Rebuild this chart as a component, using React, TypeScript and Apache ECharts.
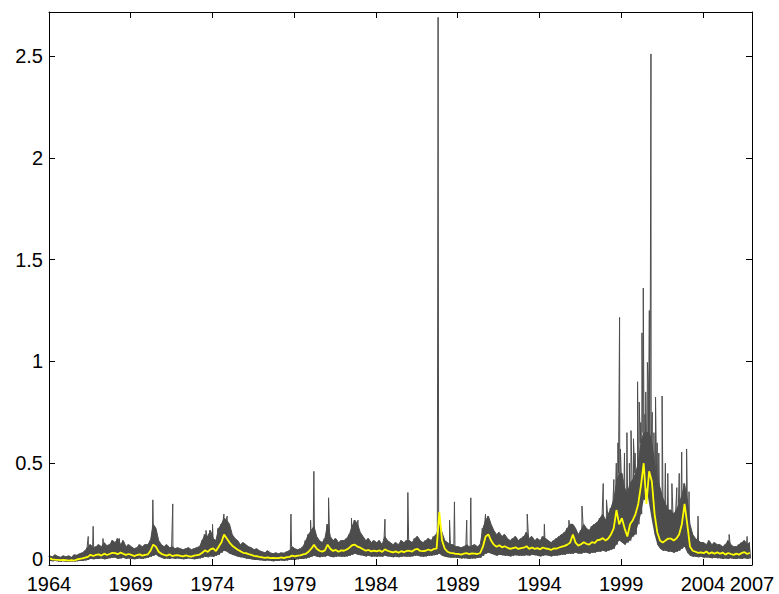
import React, { useEffect, useRef } from "react";
import * as echarts from "echarts";

const START_YEAR = 1964;
const STEP = 1 / 6; // two-month steps
const X_MAX = 43; // years after 1964 (2007)
const Y_MAX = 2.716;

// upper envelope of the gray series, 6 values per year (1964 .. 2006)
const grayHigh = [
  0.045, 0.04, 0.05, 0.042, 0.038, 0.045, // 1964
  0.04, 0.045, 0.038, 0.05, 0.048, 0.055, // 1965
  0.06, 0.07, 0.09, 0.1, 0.085, 0.09, // 1966
  0.1, 0.09, 0.11, 0.095, 0.1, 0.12, // 1967
  0.11, 0.13, 0.1, 0.12, 0.09, 0.1, // 1968
  0.09, 0.08, 0.085, 0.1, 0.09, 0.1, // 1969
  0.1, 0.12, 0.2, 0.18, 0.12, 0.1, // 1970
  0.09, 0.1, 0.085, 0.09, 0.08, 0.085, // 1971
  0.08, 0.075, 0.08, 0.085, 0.075, 0.08, // 1972
  0.085, 0.09, 0.12, 0.15, 0.14, 0.17, // 1973
  0.13, 0.12, 0.18, 0.2, 0.23, 0.22, // 1974
  0.2, 0.15, 0.13, 0.12, 0.1, 0.11, // 1975
  0.1, 0.09, 0.085, 0.075, 0.08, 0.07, // 1976
  0.065, 0.06, 0.07, 0.06, 0.055, 0.06, // 1977
  0.055, 0.06, 0.058, 0.065, 0.07, 0.09, // 1978
  0.08, 0.075, 0.08, 0.09, 0.12, 0.15, // 1979
  0.17, 0.19, 0.14, 0.12, 0.11, 0.13, // 1980
  0.2, 0.14, 0.12, 0.13, 0.11, 0.12, // 1981
  0.12, 0.13, 0.15, 0.19, 0.22, 0.2, // 1982
  0.16, 0.14, 0.12, 0.13, 0.11, 0.12, // 1983
  0.11, 0.12, 0.1, 0.14, 0.12, 0.11, // 1984
  0.1, 0.11, 0.1, 0.12, 0.11, 0.12, // 1985
  0.12, 0.11, 0.13, 0.14, 0.12, 0.11, // 1986
  0.12, 0.13, 0.12, 0.14, 0.15, 0.2, // 1987
  0.16, 0.12, 0.11, 0.1, 0.1, 0.09, // 1988
  0.09, 0.085, 0.09, 0.1, 0.09, 0.095, // 1989
  0.1, 0.09, 0.1, 0.18, 0.22, 0.24, // 1990
  0.2, 0.17, 0.15, 0.16, 0.14, 0.15, // 1991
  0.13, 0.12, 0.13, 0.14, 0.12, 0.13, // 1992
  0.14, 0.16, 0.13, 0.14, 0.12, 0.13, // 1993
  0.12, 0.14, 0.13, 0.12, 0.11, 0.12, // 1994
  0.13, 0.14, 0.15, 0.16, 0.18, 0.2, // 1995
  0.2, 0.18, 0.15, 0.17, 0.2, 0.18, // 1996
  0.17, 0.19, 0.2, 0.21, 0.23, 0.25, // 1997
  0.22, 0.25, 0.28, 0.32, 0.4, 0.45, // 1998
  0.45, 0.38, 0.35, 0.4, 0.42, 0.45, // 1999
  0.5, 0.6, 0.65, 0.65, 0.65, 0.6, // 2000
  0.5, 0.42, 0.38, 0.33, 0.3, 0.27, // 2001
  0.27, 0.25, 0.27, 0.3, 0.34, 0.4, // 2002
  0.32, 0.2, 0.15, 0.13, 0.12, 0.11, // 2003
  0.11, 0.1, 0.12, 0.1, 0.11, 0.1, // 2004
  0.1, 0.09, 0.1, 0.12, 0.1, 0.09, // 2005
  0.09, 0.1, 0.11, 0.12, 0.1, 0.11, // 2006
];

// lower envelope of the gray series
const grayLow = [
  0.02, 0.018, 0.02, 0.017, 0.016, 0.018, // 1964
  0.016, 0.015, 0.017, 0.016, 0.018, 0.02, // 1965
  0.02, 0.022, 0.025, 0.03, 0.028, 0.03, // 1966
  0.03, 0.032, 0.028, 0.03, 0.033, 0.035, // 1967
  0.035, 0.03, 0.032, 0.035, 0.03, 0.032, // 1968
  0.03, 0.028, 0.03, 0.032, 0.03, 0.033, // 1969
  0.035, 0.04, 0.045, 0.05, 0.04, 0.035, // 1970
  0.03, 0.032, 0.03, 0.033, 0.03, 0.032, // 1971
  0.03, 0.028, 0.03, 0.032, 0.03, 0.028, // 1972
  0.03, 0.032, 0.035, 0.04, 0.038, 0.042, // 1973
  0.04, 0.045, 0.05, 0.06, 0.07, 0.065, // 1974
  0.055, 0.05, 0.045, 0.04, 0.038, 0.035, // 1975
  0.032, 0.03, 0.028, 0.025, 0.025, 0.023, // 1976
  0.022, 0.02, 0.022, 0.02, 0.018, 0.02, // 1977
  0.02, 0.022, 0.02, 0.022, 0.025, 0.025, // 1978
  0.025, 0.028, 0.03, 0.03, 0.032, 0.035, // 1979
  0.04, 0.045, 0.04, 0.038, 0.04, 0.04, // 1980
  0.045, 0.04, 0.038, 0.04, 0.042, 0.04, // 1981
  0.04, 0.042, 0.045, 0.05, 0.055, 0.05, // 1982
  0.048, 0.045, 0.042, 0.045, 0.04, 0.042, // 1983
  0.04, 0.042, 0.04, 0.045, 0.042, 0.04, // 1984
  0.038, 0.04, 0.038, 0.04, 0.042, 0.04, // 1985
  0.04, 0.042, 0.045, 0.045, 0.042, 0.04, // 1986
  0.042, 0.045, 0.045, 0.048, 0.05, 0.055, // 1987
  0.045, 0.04, 0.038, 0.036, 0.035, 0.035, // 1988
  0.034, 0.032, 0.033, 0.032, 0.03, 0.032, // 1989
  0.032, 0.034, 0.035, 0.045, 0.055, 0.06, // 1990
  0.055, 0.05, 0.045, 0.05, 0.048, 0.045, // 1991
  0.045, 0.042, 0.045, 0.048, 0.045, 0.045, // 1992
  0.045, 0.048, 0.045, 0.05, 0.048, 0.045, // 1993
  0.042, 0.045, 0.048, 0.045, 0.042, 0.045, // 1994
  0.045, 0.048, 0.05, 0.05, 0.055, 0.055, // 1995
  0.055, 0.06, 0.055, 0.055, 0.06, 0.06, // 1996
  0.055, 0.06, 0.06, 0.065, 0.065, 0.07, // 1997
  0.065, 0.07, 0.075, 0.08, 0.1, 0.12, // 1998
  0.11, 0.1, 0.11, 0.12, 0.14, 0.15, // 1999
  0.2, 0.25, 0.32, 0.38, 0.3, 0.22, // 2000
  0.15, 0.1, 0.08, 0.07, 0.07, 0.065, // 2001
  0.065, 0.06, 0.065, 0.07, 0.08, 0.09, // 2002
  0.06, 0.045, 0.04, 0.04, 0.038, 0.04, // 2003
  0.035, 0.037, 0.035, 0.033, 0.035, 0.033, // 2004
  0.033, 0.03, 0.032, 0.03, 0.033, 0.03, // 2005
  0.03, 0.032, 0.03, 0.033, 0.03, 0.032, // 2006
];

// yellow smoothed series, 6 values per year
const smoothed = [
  0.032, 0.028, 0.026, 0.025, 0.024, 0.025, // 1964
  0.024, 0.021, 0.024, 0.022, 0.027, 0.03, // 1965
  0.032, 0.036, 0.04, 0.05, 0.044, 0.05, // 1966
  0.052, 0.046, 0.056, 0.049, 0.054, 0.06, // 1967
  0.058, 0.053, 0.061, 0.055, 0.05, 0.054, // 1968
  0.05, 0.044, 0.049, 0.052, 0.046, 0.05, // 1969
  0.052, 0.07, 0.1, 0.09, 0.065, 0.055, // 1970
  0.05, 0.046, 0.052, 0.044, 0.047, 0.048, // 1971
  0.045, 0.042, 0.047, 0.043, 0.041, 0.046, // 1972
  0.048, 0.051, 0.06, 0.072, 0.064, 0.077, // 1973
  0.082, 0.068, 0.09, 0.11, 0.15, 0.13, // 1974
  0.11, 0.095, 0.085, 0.075, 0.068, 0.06, // 1975
  0.058, 0.053, 0.05, 0.045, 0.043, 0.04, // 1976
  0.038, 0.035, 0.038, 0.034, 0.035, 0.034, // 1977
  0.034, 0.037, 0.034, 0.039, 0.04, 0.046, // 1978
  0.042, 0.046, 0.047, 0.052, 0.055, 0.065, // 1979
  0.08, 0.1, 0.08, 0.07, 0.066, 0.072, // 1980
  0.1, 0.08, 0.069, 0.074, 0.065, 0.072, // 1981
  0.07, 0.076, 0.085, 0.097, 0.1, 0.09, // 1982
  0.085, 0.077, 0.07, 0.074, 0.067, 0.071, // 1983
  0.067, 0.072, 0.064, 0.077, 0.07, 0.066, // 1984
  0.062, 0.067, 0.06, 0.068, 0.063, 0.069, // 1985
  0.07, 0.066, 0.076, 0.079, 0.069, 0.068, // 1986
  0.07, 0.076, 0.071, 0.079, 0.08, 0.26, // 1987
  0.12, 0.08, 0.065, 0.06, 0.058, 0.055, // 1988
  0.055, 0.051, 0.056, 0.058, 0.053, 0.057, // 1989
  0.056, 0.054, 0.059, 0.09, 0.14, 0.15, // 1990
  0.12, 0.1, 0.09, 0.097, 0.087, 0.092, // 1991
  0.085, 0.079, 0.083, 0.087, 0.079, 0.083, // 1992
  0.085, 0.092, 0.079, 0.086, 0.079, 0.083, // 1993
  0.077, 0.086, 0.081, 0.079, 0.074, 0.081, // 1994
  0.08, 0.086, 0.09, 0.094, 0.1, 0.11, // 1995
  0.15, 0.11, 0.095, 0.102, 0.112, 0.104, // 1996
  0.1, 0.112, 0.108, 0.122, 0.124, 0.132, // 1997
  0.12, 0.13, 0.15, 0.18, 0.27, 0.2, // 1998
  0.23, 0.18, 0.14, 0.2, 0.22, 0.25, // 1999
  0.3, 0.39, 0.5, 0.3, 0.46, 0.41, // 2000
  0.25, 0.16, 0.12, 0.11, 0.12, 0.13, // 2001
  0.13, 0.12, 0.13, 0.15, 0.2, 0.3, // 2002
  0.2, 0.09, 0.07, 0.065, 0.06, 0.062, // 2003
  0.058, 0.066, 0.055, 0.062, 0.055, 0.063, // 2004
  0.055, 0.061, 0.051, 0.059, 0.054, 0.05, // 2005
  0.056, 0.051, 0.059, 0.063, 0.054, 0.06, // 2006
];

// isolated spikes of the gray series
const spikeYears = [
  1966.4, 1966.7, 1967.3, 1967.9, 1968.3, 1970.35, 1970.5, 1971.57, 1973.6, 1974.0,
  1974.7, 1974.9, 1978.8, 1980.0, 1980.2, 1981.1, 1982.5, 1982.9, 1984.55, 1985.95,
  1987.8, 1988.5, 1988.8, 1989.55, 1989.8, 1990.7, 1993.25, 1994.3, 1995.8, 1996.6,
  1997.9, 1998.1, 1998.55, 1998.7, 1998.8, 1998.9, 1998.95, 1999.05, 1999.2, 1999.35,
  1999.5, 1999.6, 1999.75, 1999.85, 2000.0, 2000.1, 2000.2, 2000.27, 2000.35, 2000.45,
  2000.5, 2000.6, 2000.65, 2000.72, 2000.82, 2000.9, 2001.0, 2001.1, 2001.2, 2001.3,
  2001.5, 2001.7, 2001.85, 2002.1, 2002.4, 2002.55, 2002.7, 2003.0, 2003.15, 2003.7,
  2005.6, 2006.7,
];
const spikeValues = [
  0.14, 0.19, 0.13, 0.12, 0.13, 0.32, 0.18, 0.3, 0.17, 0.2,
  0.25, 0.24, 0.25, 0.22, 0.46, 0.33, 0.23, 0.22, 0.225, 0.356,
  2.69, 0.22, 0.31, 0.22, 0.33, 0.25, 0.25, 0.2, 0.22, 0.29,
  0.4, 0.32, 0.42, 0.5, 0.6, 1.216, 0.57, 0.45, 0.55, 0.65,
  0.5, 0.66, 0.62, 0.55, 0.9, 0.8, 0.7, 1.14, 1.36, 0.74,
  0.85, 0.995, 0.9, 1.25, 2.51, 0.75, 0.65, 0.825, 0.6, 0.55,
  0.83, 0.5, 0.45, 0.4, 0.38, 0.45, 0.555, 0.57, 0.36, 0.24,
  0.15, 0.14,
];

const yTickLabels = [0, 0.5, 1, 1.5, 2, 2.5];

const FONT = "'Liberation Sans', Arial, Helvetica, sans-serif";
const GRAY = "#4d4d4d";

export default function App() {
  const ref = useRef<HTMLDivElement>(null);
  useEffect(() => {
    if (!ref.current) return;
    const chart = echarts.init(ref.current, null, { renderer: "svg" });

    const grayPts: [number, number][] = [];
    grayHigh.forEach((h, i) => {
      grayPts.push([i * STEP, h]);
      grayPts.push([i * STEP + STEP / 2, grayLow[i]]);
    });
    spikeYears.forEach((yr, k) => grayPts.push([yr - START_YEAR, spikeValues[k]]));
    grayPts.sort((a, b) => a[0] - b[0]);

    // dense band: filled up to the upper envelope, masked in white below the lower envelope
    const bandTop = grayHigh.map((v, i) => [i * STEP + STEP / 4, v]);
    const bandBottom = grayLow.map((v, i) => [i * STEP + STEP / 4, v]);

    const yellowPts = smoothed.map((v, i) => [i * STEP + STEP / 4, v]);

    const axisLine = { show: true, onZero: false, lineStyle: { color: "#000", width: 1 } };
    const axisTick = { show: true, inside: true, length: 6, lineStyle: { color: "#000", width: 1 } };
    const labelStyle = { fontSize: 20, lineHeight: 16, fontFamily: FONT, color: "#000" };

    chart.setOption({
      animation: false,
      backgroundColor: "#fff",
      grid: { left: 49, right: 27, top: 12, bottom: 28, containLabel: false },
      xAxis: [
        {
          type: "value",
          min: 0,
          max: X_MAX,
          interval: 5,
          position: "bottom",
          z: 10,
          axisLine,
          axisTick,
          splitLine: { show: false },
          axisLabel: {
            ...labelStyle,
            margin: 11,
            showMinLabel: true,
            showMaxLabel: true,
            formatter: (v: number) => String(START_YEAR + Math.round(v)),
          },
        },
        {
          type: "value",
          min: 0,
          max: X_MAX,
          interval: 5,
          position: "top",
          z: 10,
          axisLine,
          axisTick,
          splitLine: { show: false },
          axisLabel: { show: false },
        },
      ],
      yAxis: [
        {
          type: "value",
          min: 0,
          max: Y_MAX,
          interval: 0.5,
          position: "left",
          z: 10,
          axisLine,
          axisTick,
          splitLine: { show: false },
          axisLabel: {
            ...labelStyle,
            margin: 6,
            showMaxLabel: false,
            formatter: (v: number) => {
              const hit = yTickLabels.find((t) => Math.abs(t - v) < 1e-6);
              if (hit === undefined) return "";
              return hit === 0 ? "{zero|0}" : String(hit);
            },
            rich: {
              zero: {
                fontSize: 20,
                lineHeight: 16,
                fontFamily: FONT,
                color: "#000",
                padding: [0, 0, 13, 0],
              },
            },
          },
        },
        {
          type: "value",
          min: 0,
          max: Y_MAX,
          interval: 0.5,
          position: "right",
          z: 10,
          axisLine,
          axisTick,
          splitLine: { show: false },
          axisLabel: { show: false },
        },
      ],
      series: [
        {
          type: "line",
          data: bandTop,
          showSymbol: false,
          symbol: "none",
          silent: true,
          lineStyle: { color: GRAY, width: 1 },
          areaStyle: { color: GRAY, opacity: 1, origin: "start" },
          z: 1,
        },
        {
          type: "line",
          data: bandBottom,
          showSymbol: false,
          symbol: "none",
          silent: true,
          lineStyle: { width: 0, opacity: 0 },
          areaStyle: { color: "#ffffff", opacity: 1, origin: "start" },
          z: 1,
        },
        {
          type: "line",
          data: grayPts,
          showSymbol: false,
          symbol: "none",
          lineStyle: { color: GRAY, width: 1 },
          z: 2,
        },
        {
          type: "line",
          data: yellowPts,
          showSymbol: false,
          symbol: "none",
          lineStyle: { color: "#ffff00", width: 1.8 },
          z: 3,
        },
      ],
    });
    return () => chart.dispose();
  }, []);

  return (
    <div
      ref={ref}
      style={{ position: "fixed", left: 0, top: 0, width: 779, height: 594, background: "#fff" }}
    />
  );
}
